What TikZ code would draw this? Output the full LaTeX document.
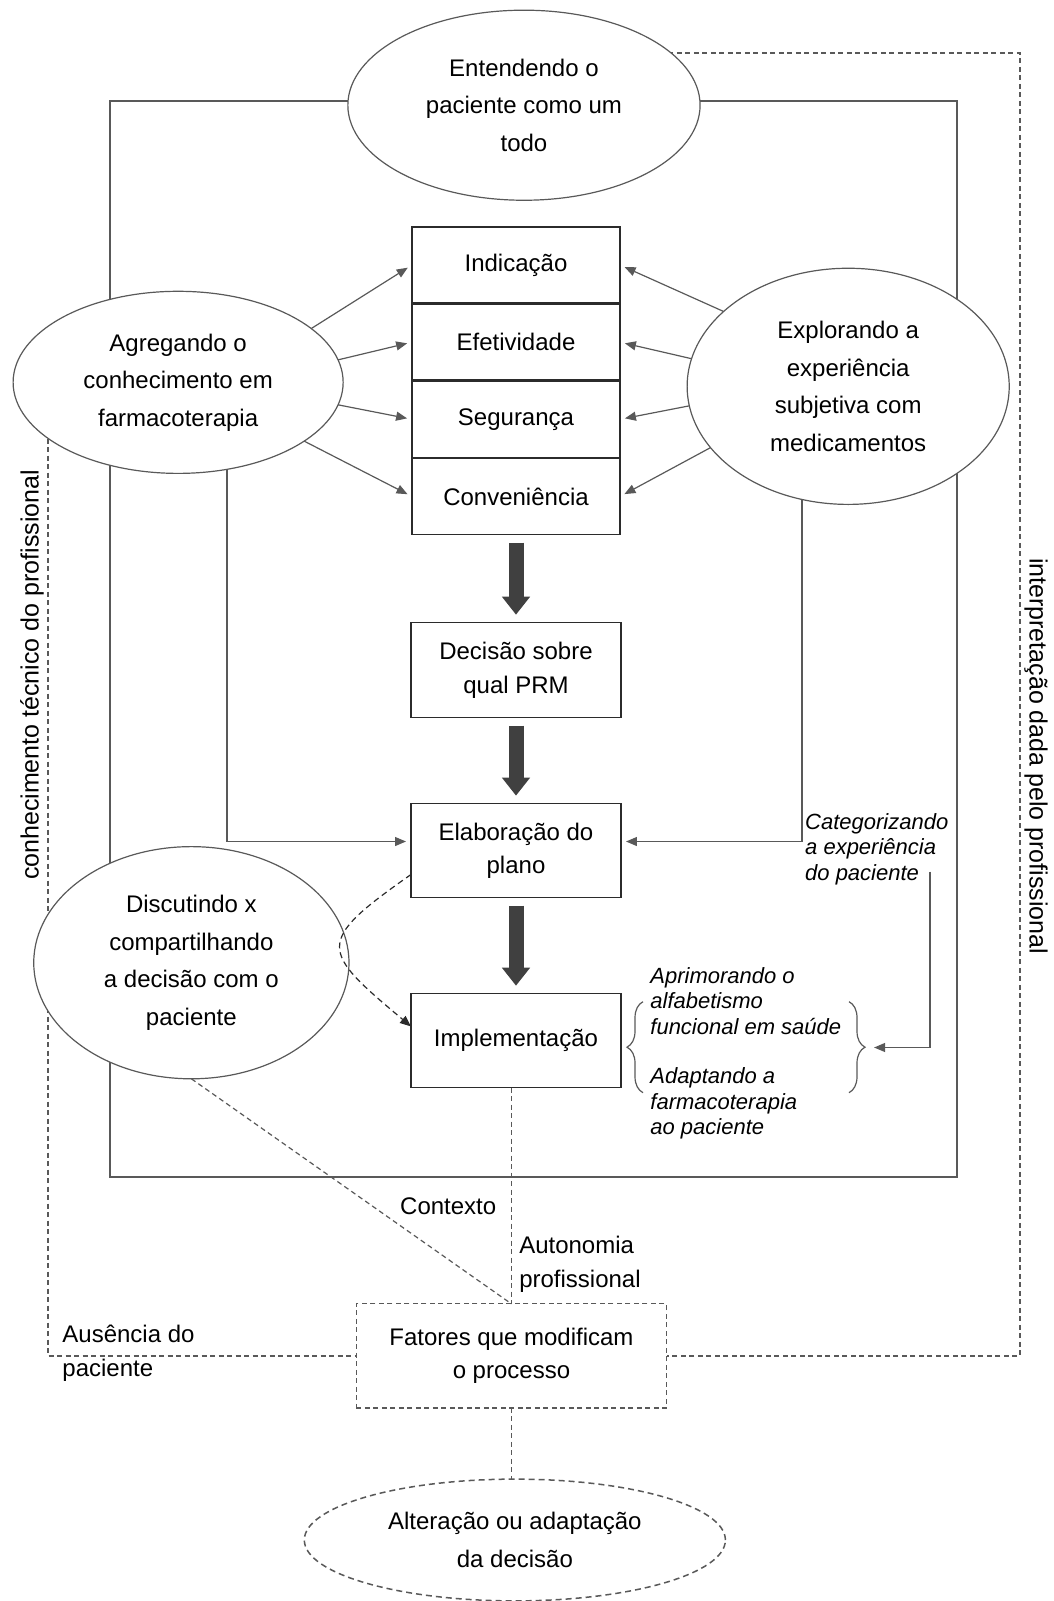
\documentclass[tikz,border=0pt]{standalone}
\usepackage{fontspec}
\setmainfont{Liberation Sans}
\usetikzlibrary{arrows.meta, positioning, shapes.geometric, decorations.pathreplacing, backgrounds}
\definecolor{linegray}{HTML}{595959}
\definecolor{arrowgray}{HTML}{404040}
\definecolor{boxgray}{HTML}{2B2B2B}

\begin{document}
\begin{tikzpicture}[
	critbox/.style={rectangle, draw=boxgray, line width=.75pt, minimum width=3.655cm, minimum height=1.336cm, inner sep=0pt, outer sep=0pt, align=center, font=\fontsize{12}{16.75}\selectfont},
	stepbox/.style={rectangle, draw=boxgray, line width=.75pt, minimum width=3.69cm, minimum height=1.65cm, inner sep=0pt, outer sep=0pt, align=center, font=\fontsize{12}{16.75}\selectfont},
	dashbox/.style={rectangle, draw=linegray, line width=.6pt, dash pattern=on 2.5pt off 1.75pt, minimum width=5.45cm, minimum height=1.83cm, inner sep=0pt, outer sep=0pt, align=center, font=\fontsize{12}{16.75}\selectfont},
	bubble/.style={ellipse, draw=linegray, line width=.6pt, fill=white, inner sep=0pt, outer sep=0pt, align=center, font=\fontsize{12}{18.75}\selectfont},
	dashbubble/.style={bubble, line width=.75pt, dash pattern=on 3pt off 2pt},
	arrow/.style={-{Triangle[length=5.5pt, width=4.5pt]}, draw=linegray, line width=.6pt, shorten >=2.5pt},
	dasharrow/.style={-{Triangle[length=5.5pt, width=4.5pt]}, draw=boxgray, line width=.6pt, dash pattern=on 3pt off 2pt},
	fatarrow/.style={-{Triangle[length=9pt, width=13.5pt]}, draw=arrowgray, line width=7.5pt, shorten <=4pt, shorten >=4pt},
	dashline/.style={draw=linegray, line width=.6pt, dash pattern=on 2.5pt off 1.75pt},
	plainnote/.style={align=left, inner sep=0pt, font=\fontsize{12}{17}\selectfont},
	inote/.style={align=left, inner sep=0pt, font=\fontsize{11}{12.75}\selectfont\itshape},
	sidelabel/.style={inner sep=0pt, font=\fontsize{12.5}{14}\selectfont}
	]
	\useasboundingbox (-9.068,-23.478) rectangle (9.437,4.657);

	\node[critbox] (ind) at (0,0) {Indicação};
	\node[critbox, below=0.02cm of ind] (efe) {Efetividade};
	\node[critbox, below=0.02cm of efe] (seg) {Segurança};
	\node[critbox, below=0.02cm of seg] (conv) {Conveniência};
	\node[stepbox, minimum height=1.67cm, below=1.55cm of conv] (dec) {Decisão sobre\\qual PRM};
	\node[stepbox, below=1.51cm of dec] (ela) {Elaboração do\\plano};
	\node[stepbox, below=1.69cm of ela] (imp) {Implementação};
	\node[dashbox, below=3.80cm of imp, xshift=-0.08cm] (fat) {Fatores que modificam\\o processo};
	\node[dashbubble, minimum width=7.40cm, minimum height=2.14cm, below=1.25cm of fat, xshift=0.06cm] (alt) {Alteração ou adaptação\\da decisão};

	\node[bubble, minimum width=6.19cm, minimum height=3.34cm, above=0.47cm of ind, xshift=0.14cm] (todo) {Entendendo o\\paciente como um\\todo};
	\node[bubble, minimum width=5.80cm, minimum height=3.20cm, left=1.21cm of seg, yshift=0.65cm] (agreg) {Agregando o\\conhecimento em\\farmacoterapia};
	\node[bubble, minimum width=5.66cm, minimum height=4.15cm, right=1.18cm of seg, yshift=0.58cm] (explor) {Explorando a\\experiência\\subjetiva com\\medicamentos};
	\node[bubble, minimum width=5.54cm, minimum height=4.08cm, left=1.09cm of imp, yshift=1.37cm] (discut) {Discutindo x\\compartilhando\\a decisão com o\\paciente};

	\node[sidelabel, rotate=90] (tecnico) at (-8.505,-7.205) {conhecimento técnico do profissional};
	\node[sidelabel, rotate=-90] (interp) at (9.138,-8.63) {interpretação dada pelo profissional};

	\node[inote, anchor=north west] (cat) at ([xshift=3.23cm, yshift=-0.16cm]ela.north east) {Categorizando\\a experiência\\do paciente};
	\node[inote, anchor=north west] (apr) at ([xshift=0.51cm, yshift=1.30cm]imp.east) {Aprimorando o\\alfabetismo\\funcional em saúde};
	\node[inote, anchor=north west] (adp) at ([xshift=0.51cm, yshift=-0.47cm]imp.east) {Adaptando a\\farmacoterapia\\ao paciente};

	\node[plainnote, anchor=base east] (ctx) at ([xshift=-0.26cm, yshift=1.564cm]fat.north) {Contexto};
	\node[plainnote, anchor=north west] (auto) at ([xshift=0.13cm, yshift=1.195cm]fat.north) {Autonomia\\profissional};

	\coordinate (rtop) at (8.857,3.726);
	\coordinate (lc) at (-8.224,-2.900);
	\node[plainnote, anchor=north west] (aus) at ([xshift=0.246cm, yshift=0.545cm]lc |- fat.west) {Ausência do\\paciente};

	\begin{scope}[on background layer]
		\draw[linegray, line width=.75pt] (-7.135,2.882) rectangle (7.750,-16.027);
		\draw[dashline] (todo.center |- rtop) -- (rtop) |- (fat.east);
		\draw[dashline] (lc) |- (fat.west);
		\draw[arrow] ([xshift=0.86cm]agreg.center) |- ([yshift=0.16cm]ela.west);
		\draw[arrow] ([xshift=-0.81cm]explor.center) |- ([yshift=0.16cm]ela.east);
	\end{scope}

	\draw[arrow] (agreg.22) -- (ind.west);
	\draw[arrow] (agreg.8) -- (efe.west);
	\draw[arrow] (agreg.-8) -- (seg.west);
	\draw[arrow] (agreg.-25) -- (conv.west);
	\draw[arrow] (explor.149) -- (ind.east);
	\draw[arrow] (explor.170) -- (efe.east);
	\draw[arrow] (explor.187) -- (seg.east);
	\draw[arrow] (explor.204) -- (conv.east);

	\draw[fatarrow] (conv) -- (dec);
	\draw[fatarrow] (dec) -- (ela);
	\draw[fatarrow] (ela) -- (imp);

	\draw[dasharrow] ([yshift=-0.42cm]ela.west) to[out=215, in=140, looseness=2] ([yshift=0.25cm]imp.west);

	\coordinate (lbt) at ([xshift=0.387cm, yshift=0.685cm]imp.east);
	\coordinate (lbb) at ([xshift=0.387cm, yshift=-0.914cm]imp.east);
	\coordinate (rbt) at ([xshift=4.007cm, yshift=0.685cm]imp.east);
	\coordinate (rbb) at ([xshift=4.007cm, yshift=-0.914cm]imp.east);
	\draw[linegray, line width=.6pt, decorate, decoration={brace, amplitude=8pt}] (lbb) -- (lbt);
	\draw[linegray, line width=.6pt, decorate, decoration={brace, amplitude=8pt}] (rbt) -- (rbb);

	\coordinate (catfoot) at ([xshift=5.43cm, yshift=-0.37cm]ela.east);
	\coordinate (rbtip) at ([xshift=4.36cm, yshift=-0.12cm]imp.east);
	\draw[arrow] (catfoot) |- (rbtip);

	\draw[dashline] (fat.north |- imp.south) -- (fat.north);
	\draw[dashline] (discut.south) -- (fat.north);
	\draw[dashline] (fat.south) -- (fat.south |- alt.north);
\end{tikzpicture}
\end{document}
